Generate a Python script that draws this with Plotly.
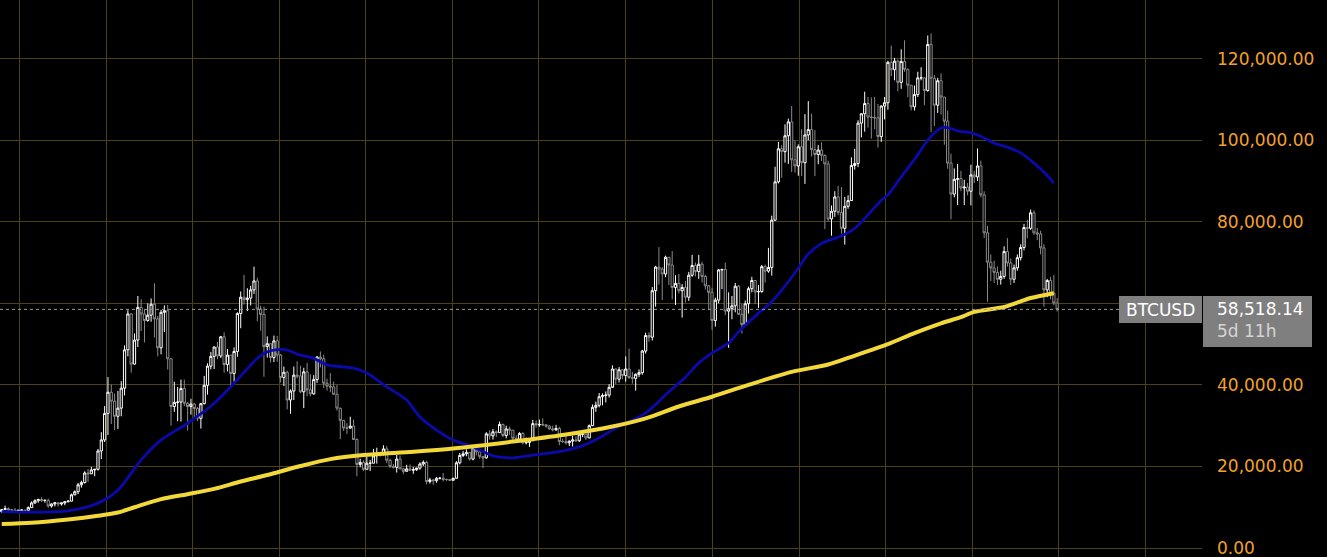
import pandas as pd
import plotly.graph_objects as go

# weekly BTCUSD candles, values in thousands of USD, first week starts 2020-05-25
first_week = "2020-05-25"
first_open = 8.9

weekly_close = [
    # 2020
    9.45, 9.65, 9.35, 9.30, 9.00, 9.25, 9.30, 9.17, 9.90, 11.05, 11.60, 11.90, 11.65, 11.70, 10.30, 10.80,
    11.10, 10.80, 11.05, 11.35, 11.50, 13.05, 13.80, 15.50, 16.05, 18.40, 18.20, 19.15, 19.30, 23.80, 26.50, 33.00,
    # 2021
    38.2, 36.0, 32.3, 34.3, 39.2, 48.6, 57.4, 45.1, 51.0, 59.0, 57.4, 55.8, 57.1, 59.8, 56.2, 49.1, 57.8, 58.2,
    46.4, 34.7, 35.7, 35.8, 39.1, 35.5, 34.7, 35.3, 34.2, 31.8, 35.4, 39.9, 44.6, 47.0, 49.3, 47.1, 51.8, 45.0,
    47.3, 42.8, 48.2, 57.5, 61.5, 60.9, 61.3, 63.3, 65.5, 58.6, 57.3, 49.4, 50.1, 46.7, 50.8, 47.3,
    # 2022
    41.8, 43.1, 36.3, 38.5, 42.4, 42.2, 38.3, 43.2, 38.8, 37.8, 41.3, 46.8, 46.4, 40.4, 39.7, 39.5, 37.7, 34.3,
    31.3, 29.4, 29.4, 29.9, 26.6, 20.5, 21.0, 19.3, 20.8, 20.8, 22.6, 23.3, 23.2, 24.3, 21.5, 20.0, 19.8, 21.8,
    19.4, 18.8, 19.4, 19.1, 19.2, 19.6, 20.6, 21.0, 16.3, 16.7, 16.5, 17.1, 17.1, 16.8, 16.8, 16.6,
    # 2023
    17.1, 20.9, 22.7, 23.1, 23.4, 21.8, 24.6, 23.6, 22.4, 22.1, 28.0, 27.5, 28.5, 28.3, 30.3, 27.6, 29.2, 28.9,
    26.9, 26.7, 28.1, 25.8, 25.9, 26.3, 30.5, 30.2, 30.3, 30.2, 29.9, 29.2, 29.0, 29.3, 26.1, 26.1, 25.8, 26.2,
    26.5, 26.3, 27.9, 27.9, 27.0, 30.0, 34.5, 35.0, 37.1, 37.4, 37.5, 39.4, 43.9, 41.4, 43.7, 42.3,
    # 2024
    43.9, 41.8, 41.6, 42.6, 43.0, 48.3, 52.1, 51.7, 63.1, 68.9, 68.4, 67.2, 71.3, 69.4, 63.9, 64.9, 63.1, 63.9,
    61.5, 66.9, 69.3, 67.8, 69.6, 66.6, 64.3, 62.7, 55.8, 60.8, 68.2, 68.3, 58.1, 58.7, 59.4, 64.2, 57.3, 54.8,
    59.9, 63.6, 65.6, 62.8, 62.9, 69.0, 67.9, 68.8, 80.4, 89.8, 97.9, 97.2, 101.1, 104.5, 95.2, 93.7,
    # 2025
    98.4, 94.5, 101.3, 102.6, 97.7, 96.5, 97.6, 96.3, 94.2, 80.7, 82.6, 86.1, 82.3, 78.4, 83.8, 85.2, 93.8, 94.3,
    104.2, 106.5, 109.0, 105.7, 105.6, 105.5, 100.9, 108.4, 109.2, 119.1, 117.3, 119.4, 114.2, 119.3, 117.4,
    113.5, 108.2, 111.2, 115.3, 115.3, 112.2, 123.5, 115.2, 108.6, 114.6, 110.6, 104.7, 94.4, 86.8, 90.4, 90.6,
    88.3, 88.5, 87.5,
    # 2026
    91.5, 91.0, 93.7, 86.6, 77.3, 70.1, 68.7, 67.6, 65.9, 66.6, 72.7, 69.9, 65.9, 68.7, 71.2, 73.7, 78.6, 78.4,
    82.2, 77.3, 77.0, 73.6, 63.3, 65.6, 62.5, 60.1, 58.51814,
]

weekly_high = [
    # 2020
    9.55, 10.38, 9.95, 9.60, 9.80, 9.35, 9.45, 9.30, 10.20, 11.45, 11.95, 12.10, 12.45, 11.85, 12.10, 10.95,
    11.15, 11.15, 11.10, 11.50, 11.75, 13.35, 14.10, 15.95, 16.50, 18.80, 19.40, 19.90, 19.40, 24.30, 28.40, 34.80,
    # 2021
    41.9, 40.1, 37.9, 38.5, 40.9, 49.7, 58.3, 57.5, 52.6, 61.8, 61.0, 58.4, 60.0, 61.2, 64.9, 56.9, 58.4, 59.5,
    59.6, 46.6, 40.8, 39.5, 41.3, 41.3, 35.8, 36.6, 35.6, 34.6, 35.5, 42.2, 45.3, 48.1, 49.4, 50.5, 52.0, 52.9,
    48.8, 47.4, 49.2, 57.8, 62.9, 67.0, 63.7, 64.3, 69.0, 66.3, 59.4, 59.2, 51.9, 50.2, 52.1, 52.0,
    # 2022
    47.6, 44.5, 43.5, 38.9, 44.5, 45.8, 44.7, 44.2, 45.4, 42.6, 42.4, 47.1, 48.2, 47.4, 41.5, 42.9, 40.8, 40.0,
    34.2, 31.4, 30.6, 32.2, 31.5, 26.9, 21.9, 21.5, 22.4, 21.6, 24.3, 24.6, 23.6, 25.2, 25.0, 21.9, 20.6, 22.8,
    22.7, 19.7, 20.4, 20.5, 19.9, 19.7, 21.0, 21.5, 21.4, 17.2, 16.9, 17.4, 17.4, 18.4, 17.0, 16.9,
    # 2023
    17.2, 21.3, 23.3, 23.8, 24.2, 23.4, 25.2, 25.1, 23.9, 22.6, 28.4, 28.9, 29.2, 28.8, 31.0, 30.5, 30.0, 29.8,
    28.9, 27.6, 28.4, 28.4, 27.1, 26.8, 31.4, 31.3, 31.5, 31.8, 30.4, 30.1, 30.0, 30.2, 29.7, 26.8, 28.1, 26.4,
    27.5, 27.4, 28.6, 28.6, 27.9, 30.3, 35.2, 35.9, 38.0, 37.9, 38.4, 40.2, 44.8, 44.0, 44.4, 43.8,
    # 2024
    47.0, 48.9, 43.2, 42.8, 43.8, 48.6, 52.8, 52.9, 64.0, 69.2, 73.8, 68.9, 71.7, 71.3, 72.8, 66.9, 67.2, 64.7,
    65.5, 67.7, 71.9, 70.0, 71.9, 70.2, 67.0, 64.5, 63.8, 61.4, 68.4, 68.5, 70.0, 62.7, 61.8, 65.0, 64.5, 59.8,
    60.7, 64.1, 66.5, 65.6, 64.5, 69.4, 69.5, 73.6, 81.5, 93.5, 99.6, 98.8, 103.9, 105.3, 108.4, 99.9,
    # 2025
    99.0, 102.7, 106.4, 109.6, 106.5, 102.5, 98.8, 99.5, 96.5, 95.0, 84.0, 87.5, 88.8, 88.5, 86.1, 86.5, 95.8,
    97.9, 104.9, 106.6, 111.9, 110.6, 110.5, 110.6, 108.9, 108.5, 110.6, 119.5, 123.2, 120.2, 119.8, 122.3,
    124.5, 117.6, 113.5, 113.4, 116.8, 117.9, 115.4, 125.7, 126.2, 116.0, 115.3, 116.4, 110.6, 107.3, 96.7,
    93.1, 94.2, 92.5, 90.3, 89.5,
    # 2026
    94.0, 92.5, 98.0, 95.0, 87.5, 79.0, 72.0, 70.5, 69.0, 68.0, 74.0, 76.0, 71.0, 69.5, 72.0, 74.5, 79.5, 80.5,
    83.0, 82.8, 78.5, 77.8, 74.5, 66.0, 66.5, 67.0, 61.3,
]

weekly_low = [
    # 2020
    8.65, 9.30, 9.10, 8.95, 8.85, 8.90, 9.10, 9.05, 9.15, 9.90, 10.80, 11.10, 11.30, 11.10, 9.90, 9.90,
    10.20, 10.15, 10.40, 10.50, 11.20, 11.40, 12.90, 13.20, 14.80, 15.80, 16.20, 18.20, 17.60, 19.00, 21.80, 26.00,
    # 2021
    27.7, 30.4, 28.9, 29.2, 32.3, 37.4, 47.0, 43.0, 45.0, 49.3, 53.2, 50.4, 55.5, 55.5, 51.6, 47.0, 47.5, 53.0,
    43.8, 30.0, 33.4, 31.1, 31.0, 34.8, 28.8, 32.7, 32.1, 31.1, 29.3, 35.2, 37.6, 43.8, 43.9, 46.3, 46.6, 43.0,
    43.3, 39.6, 40.8, 46.9, 53.9, 59.7, 58.1, 59.5, 62.3, 55.6, 53.3, 42.0, 46.7, 45.5, 45.6, 45.7,
    # 2022
    40.6, 39.7, 34.0, 32.9, 36.3, 41.6, 38.0, 34.3, 37.2, 37.2, 37.6, 40.5, 44.3, 39.2, 38.6, 38.2, 37.6, 33.7,
    26.7, 28.7, 28.0, 29.3, 26.5, 17.6, 19.8, 18.9, 19.3, 18.9, 20.8, 20.7, 22.4, 22.7, 20.8, 19.6, 19.5, 18.5,
    19.3, 18.1, 18.8, 19.0, 18.2, 18.9, 19.2, 20.1, 15.6, 15.8, 15.5, 16.0, 16.8, 16.3, 16.4, 16.5,
    # 2023
    16.6, 17.2, 20.5, 22.3, 22.5, 21.4, 21.5, 22.7, 21.9, 19.6, 21.9, 26.6, 26.6, 27.2, 28.2, 27.2, 26.9, 27.7,
    26.0, 26.4, 26.2, 25.4, 25.4, 24.8, 26.3, 29.5, 29.7, 29.9, 29.5, 29.0, 28.6, 28.7, 25.2, 25.8, 25.4, 25.0,
    24.9, 26.0, 26.0, 27.2, 26.5, 26.9, 29.9, 33.4, 34.5, 35.0, 35.7, 36.9, 39.6, 40.2, 40.6, 41.4,
    # 2024
    40.8, 41.5, 40.3, 38.6, 41.9, 42.5, 47.7, 50.6, 50.9, 59.2, 64.6, 60.8, 66.4, 64.5, 61.0, 59.6, 62.4, 56.5,
    60.2, 60.6, 66.5, 66.6, 66.0, 65.1, 63.4, 58.4, 53.5, 54.3, 60.0, 63.5, 57.1, 49.1, 56.1, 57.8, 57.1, 52.6,
    54.6, 57.5, 62.7, 59.8, 58.9, 62.6, 65.1, 67.5, 66.8, 80.2, 89.4, 90.8, 94.5, 94.2, 92.2, 92.1,
    # 2025
    91.3, 91.2, 89.3, 100.0, 96.0, 91.2, 94.1, 94.9, 78.2, 80.0, 76.6, 81.2, 81.6, 77.1, 74.4, 83.2, 85.1, 92.8,
    93.4, 100.7, 102.1, 103.1, 100.4, 102.7, 98.2, 99.6, 105.1, 107.5, 115.7, 114.7, 112.0, 112.6, 116.8, 110.6,
    107.3, 107.3, 110.6, 114.7, 108.6, 111.9, 102.0, 103.5, 106.7, 106.3, 98.9, 93.0, 80.6, 86.0, 84.1, 87.5,
    84.1, 86.5,
    # 2026
    84.0, 89.5, 90.0, 86.0, 76.0, 60.4, 65.5, 65.0, 64.5, 64.6, 66.0, 69.0, 64.5, 65.0, 68.0, 70.5, 73.0, 76.0,
    78.0, 76.8, 75.5, 72.0, 59.2, 61.5, 61.0, 59.5, 58.0,
]

# moving averages (week number -> thousands USD)
ma_blue_week = [0, 9, 20, 29, 35, 42, 48, 56, 64, 70, 77, 80, 85, 90, 94, 98, 106, 110, 116, 122, 126, 131,
                136, 142, 148, 154, 160, 167, 174, 180, 185, 194, 201, 206, 210, 214, 219, 222, 228, 232, 237,
                240, 243, 247, 253, 257, 261, 265, 267, 271, 276, 279, 283, 285, 288, 292, 295, 299, 303, 307,
                311, 314, 317]
ma_blue_value = [8.9, 8.8, 9.1, 11.0, 14.2, 21.6, 26.5, 30.6, 35.5, 40.4, 46.5, 48.1, 48.7, 47.3, 46.5, 44.9,
                 44.1, 42.9, 39.5, 36.3, 32.1, 28.9, 26.5, 24.8, 22.6, 22.1, 22.8, 23.5, 24.8, 27.0, 29.4, 33.1,
                 38.3, 41.9, 45.4, 47.8, 50.3, 53.0, 57.6, 60.4, 65.3, 68.6, 72.1, 74.7, 76.5, 78.4, 81.7, 85.3,
                 86.6, 91.0, 96.4, 100.0, 103.0, 103.1, 102.3, 101.8, 101.0, 99.3, 98.3, 96.9, 94.4, 92.2, 89.5]

ma_yellow_week = [0, 9, 20, 29, 35, 40, 48, 56, 64, 72, 80, 90, 99, 109, 124, 136, 154, 169, 184, 194, 204,
                  214, 225, 238, 249, 256, 267, 275, 283, 289, 293, 302, 310, 317]
ma_yellow_value = [5.9, 6.2, 7.0, 7.9, 8.7, 10.0, 12.0, 13.2, 14.5, 16.3, 17.9, 20.1, 21.8, 22.8, 23.6, 24.4,
                   26.1, 27.7, 29.8, 31.8, 34.7, 37.1, 40.0, 43.2, 45.0, 46.9, 50.0, 52.7, 55.1, 56.6, 57.9,
                   59.1, 61.3, 62.5]

symbol = "BTCUSD"
countdown = "5d 11h"

assert len(weekly_close) == len(weekly_high) == len(weekly_low)

weeks = pd.date_range(first_week, periods=len(weekly_close), freq="7D")
opens = [first_open] + weekly_close[:-1]
k = 1000.0

GRID = "#4a4318"
ORANGE = "#f3a12c"
BOX = "#7f7f7f"

# plot area is 1202 x 557 px
PLOT_W, PLOT_H = 1202, 557
Y_MIN, Y_MAX = -2207, 134396
px_per_day = 0.47414
x_left = weeks[0] - pd.Timedelta(days=3.7)
x_right = x_left + pd.Timedelta(days=PLOT_W / px_per_day)


def yval(py):
    return Y_MAX - py / PLOT_H * (Y_MAX - Y_MIN)


def xpap(px):
    return px / PLOT_W


fig = go.Figure()
fig.add_trace(go.Candlestick(
    x=weeks,
    open=[v * k for v in opens],
    high=[v * k for v in weekly_high],
    low=[v * k for v in weekly_low],
    close=[v * k for v in weekly_close],
    increasing=dict(line=dict(color="#ffffff", width=1), fillcolor="#000000"),
    decreasing=dict(line=dict(color="#8a8a8a", width=1), fillcolor="#000000"),
    whiskerwidth=0,
    hoverinfo="skip",
))
fig.add_trace(go.Scatter(
    x=weeks[ma_blue_week], y=[v * k for v in ma_blue_value],
    mode="lines", line=dict(color="#0a0aaa", width=2.8, shape="spline", smoothing=0.8), hoverinfo="skip",
))
fig.add_trace(go.Scatter(
    x=weeks[ma_yellow_week], y=[v * k for v in ma_yellow_value],
    mode="lines", line=dict(color="#f2d838", width=4, shape="spline", smoothing=0.8), hoverinfo="skip",
))

last = weekly_close[-1] * k
shapes = [
    dict(type="line", xref="paper", yref="y", x0=0, x1=1, y0=last, y1=last,
         line=dict(color="#9a9a9a", width=1, dash="dot")),
    dict(type="rect", xref="paper", yref="y", x0=xpap(1119), x1=xpap(1202), y0=yval(323), y1=yval(296),
         fillcolor=BOX, line=dict(width=0)),
    dict(type="rect", xref="paper", yref="y", x0=xpap(1203), x1=xpap(1312), y0=yval(347), y1=yval(296),
         fillcolor=BOX, line=dict(width=0)),
]
annotations = [
    dict(text=symbol, xref="paper", yref="y", x=xpap(1160.5), y=yval(309.5), xanchor="center",
         yanchor="middle", showarrow=False, font=dict(color="#ffffff", size=17)),
    dict(text=f"{last:,.2f}<br><span style='color:#d6d6d6'>{countdown}</span>", xref="paper", yref="y",
         x=xpap(1215), y=yval(319.5), xanchor="left", yanchor="middle", align="left", showarrow=False,
         font=dict(color="#ffffff", size=17)),
]

fig.update_layout(
    width=1327, height=557,
    margin=dict(l=0, r=1327 - PLOT_W, t=0, b=0),
    paper_bgcolor="#000000", plot_bgcolor="#000000",
    showlegend=False,
    boxgap=0.05,
    font=dict(family="DejaVu Sans", size=17, color=ORANGE),
    shapes=shapes,
    annotations=annotations,
    xaxis=dict(type="date", range=[x_left, x_right], dtick="M6", tick0="2020-07-01",
               showgrid=True, gridcolor=GRID, gridwidth=1, showticklabels=False, ticks="",
               zeroline=False, showline=False, rangeslider=dict(visible=False)),
    yaxis=dict(side="right", range=[Y_MIN, Y_MAX], dtick=20000, tick0=0, tickformat=",.2f",
               showgrid=True, gridcolor=GRID, gridwidth=1, zeroline=False, showline=False, ticks="",
               ticklabelstandoff=14, ticklabeloverflow="allow", tickfont=dict(color=ORANGE, size=17)),
)

fig.write_html("out.html", config={"displayModeBar": False},
               post_script="document.body.style.margin='0';document.body.style.background='#000';")
